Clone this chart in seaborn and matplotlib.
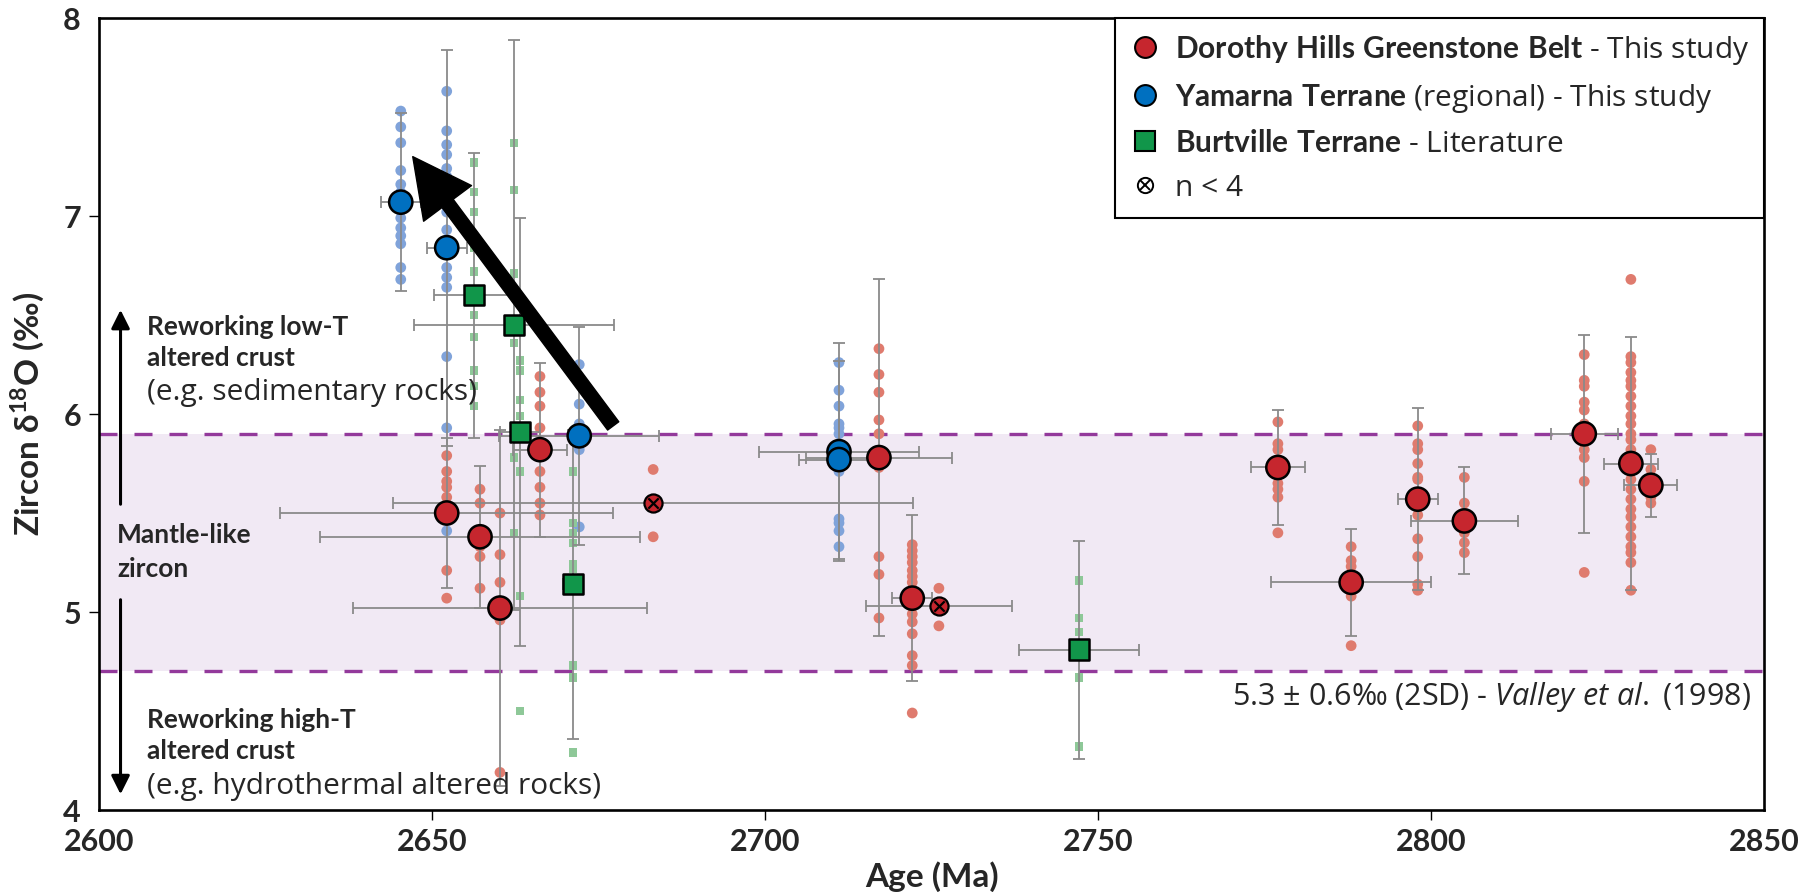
"""
Zircon d18O vs age, Dorothy Hills / Yamarna / Burtville.
"""
import numpy as np
import pandas as pd
import matplotlib
matplotlib.use("Agg")
import matplotlib.pyplot as plt
from matplotlib.lines import Line2D
from matplotlib.legend_handler import HandlerTuple
import seaborn as sns

sns.set_theme(style="white")
plt.rcParams.update({
    "font.family":      ["Open Sans", "DejaVu Sans"],
    "mathtext.fontset": "custom",
    "mathtext.rm":      "Open Sans",
    "mathtext.bf":      "Lato:bold",
    "mathtext.it":      "Open Sans:italic",
})
BOLD = dict(family=["Lato", "DejaVu Sans"], fontweight="bold")

# ── sample means ────────────────────────────────────────────────────────────
dh_age      = [2652.2, 2657.2, 2660.2, 2666.2, 2683.2, 2717.1, 2722.1, 2726.1,
               2777.0, 2788.0, 2798.0, 2805.0, 2823.0, 2830.0, 2833.0]
dh_d18o     = [5.50, 5.38, 5.02, 5.82, 5.55, 5.78, 5.07, 5.03,
               5.73, 5.15, 5.57, 5.46, 5.90, 5.75, 5.64]
dh_age_err  = [25, 24, 22, 4, 39, 11, 3, 11, 4, 12, 3, 8, 5, 4, 4]
dh_d18o_err = [0.38, 0.36, 0.90, 0.44, 0.0, 0.90, 0.42, 0.0,
               0.29, 0.27, 0.46, 0.27, 0.50, 0.64, 0.16]
dh_low_n    = [False, False, False, False, True, False, False, True,
               False, False, False, False, False, False, False]

ya_age      = [2645.3, 2652.2, 2672.1, 2711.1, 2711.1]
ya_d18o     = [7.07, 6.84, 5.89, 5.81, 5.77]
ya_age_err  = [3, 3, 12, 12, 6]
ya_d18o_err = [0.45, 1.0, 0.55, 0.55, 0.50]

bt_age      = [2656.3, 2662.3, 2663.2, 2671.2, 2747.1]
bt_d18o     = [6.60, 6.45, 5.91, 5.14, 4.81]
bt_age_err  = [6, 15, 3, 1.5, 9]
bt_d18o_err = [0.72, 1.44, 1.08, 0.78, 0.55]

# ── individual spot analyses (one list per sample, same order as above) ────
dh_spots = [
    [5.79, 5.71, 5.66, 5.63, 5.58, 5.50, 5.21, 5.07],
    [5.62, 5.55, 5.38, 5.33, 5.28, 5.12],
    [5.50, 5.29, 5.15, 5.02, 4.96, 4.19],
    [6.19, 6.11, 6.04, 5.93, 5.82, 5.71, 5.63, 5.55, 5.49],
    [5.72, 5.38],
    [6.33, 6.20, 6.11, 5.97, 5.90, 5.78, 5.73, 5.28, 5.19, 4.97],
    [5.34, 5.31, 5.28, 5.25, 5.21, 5.18, 5.15, 5.11, 5.06, 4.99, 4.95,
     4.89, 4.78, 4.73, 4.49],
    [5.12, 4.93],
    [5.96, 5.85, 5.82, 5.73, 5.65, 5.62, 5.58, 5.40],
    [5.33, 5.26, 5.23, 5.15, 5.11, 5.08, 4.83],
    [5.94, 5.85, 5.82, 5.75, 5.68, 5.67, 5.57, 5.55, 5.49, 5.37, 5.28,
     5.14, 5.11],
    [5.68, 5.55, 5.50, 5.46, 5.40, 5.35, 5.30],
    [6.30, 6.17, 6.14, 6.06, 6.02, 5.95, 5.90, 5.82, 5.78, 5.66, 5.20],
    [6.68, 6.29, 6.26, 6.21, 6.17, 6.14, 6.09, 6.04, 5.99, 5.95, 5.90,
     5.87, 5.82, 5.78, 5.72, 5.67, 5.62, 5.57, 5.52, 5.48, 5.43, 5.38,
     5.33, 5.30, 5.25, 5.11],
    [5.82, 5.72, 5.68, 5.65, 5.62, 5.58, 5.55],
]
ya_spots = [
    [7.53, 7.45, 7.37, 7.23, 7.16, 7.12, 6.99, 6.94, 6.90, 6.86, 6.74, 6.68],
    [7.63, 7.43, 7.36, 7.31, 7.24, 7.20, 7.08, 7.02, 6.93, 6.88, 6.81,
     6.74, 6.69, 6.64, 6.29, 5.93, 5.41],
    [6.25, 6.05, 5.95, 5.82, 5.43],
    [6.26, 6.12, 6.04, 5.95, 5.93, 5.90, 5.83, 5.73, 5.71],
    [5.47, 5.45, 5.41, 5.33],
]
bt_spots = [
    [7.27, 7.12, 7.02, 6.84, 6.72, 6.50, 6.39, 6.22, 6.14, 6.04],
    [7.37, 7.13, 6.71, 6.36, 5.78, 5.40],
    [6.27, 6.22, 6.07, 5.99, 5.71, 5.08, 4.50],
    [5.71, 5.45, 5.40, 5.35, 5.24, 5.22, 4.73, 4.67, 4.29],
    [5.16, 4.97, 4.90, 4.67, 4.32],
]

C_MAIN = {"Dorothy Hills": "#c6262e", "Yamarna": "#0070c0", "Burtville": "#11964a"}
C_SPOT = {"Dorothy Hills": "#df7b6e", "Yamarna": "#80a3da", "Burtville": "#8ec898"}

spot_rows = []
for grp, ages, spots in [("Dorothy Hills", dh_age, dh_spots),
                         ("Yamarna", ya_age, ya_spots),
                         ("Burtville", bt_age, bt_spots)]:
    for a, vals in zip(ages, spots):
        for v in vals:
            spot_rows.append((grp, a, v))
spots_df = pd.DataFrame(spot_rows, columns=["group", "age", "d18o"])

mean_df = pd.concat([
    pd.DataFrame({"group": "Dorothy Hills", "age": dh_age, "d18o": dh_d18o,
                  "age_err": dh_age_err, "d18o_err": dh_d18o_err, "low_n": dh_low_n}),
    pd.DataFrame({"group": "Yamarna", "age": ya_age, "d18o": ya_d18o,
                  "age_err": ya_age_err, "d18o_err": ya_d18o_err, "low_n": False}),
    pd.DataFrame({"group": "Burtville", "age": bt_age, "d18o": bt_d18o,
                  "age_err": bt_age_err, "d18o_err": bt_d18o_err, "low_n": False}),
], ignore_index=True)

# ── figure ──────────────────────────────────────────────────────────────────
fig = plt.figure(figsize=(18.01, 8.92), dpi=100)
ax = fig.add_axes([0.055, 0.0919, 0.9245, 0.8879])

# mantle zircon band (Valley et al. 1998)
ax.axhspan(4.7, 5.9, color="#f1e9f4", zorder=0, lw=0)
for yv in (4.7, 5.9):
    ax.axhline(yv, color="#93399b", lw=2.4, ls=(0, (5.4, 5.1)), zorder=1)

# spot analyses
sns.scatterplot(data=spots_df[spots_df.group != "Burtville"], x="age", y="d18o",
                hue="group", palette=C_SPOT, marker="o", s=60, linewidth=0,
                legend=False, ax=ax, zorder=2)
sns.scatterplot(data=spots_df[spots_df.group == "Burtville"], x="age", y="d18o",
                hue="group", palette=C_SPOT, marker="s", s=36, linewidth=0,
                legend=False, ax=ax, zorder=2)

# error bars
ax.errorbar(mean_df["age"], mean_df["d18o"], xerr=mean_df["age_err"],
            yerr=mean_df["d18o_err"], fmt="none", ecolor="#8a8a8a",
            elinewidth=1.3, capsize=4, capthick=1.3, zorder=3)

# sample means
big = mean_df[~mean_df.low_n]
sns.scatterplot(data=big[big.group != "Burtville"], x="age", y="d18o",
                hue="group", palette=C_MAIN, marker="o", s=280,
                edgecolor="black", linewidth=1.8, legend=False, ax=ax, zorder=4)
sns.scatterplot(data=big[big.group == "Burtville"], x="age", y="d18o",
                hue="group", palette=C_MAIN, marker="s", s=215,
                edgecolor="black", linewidth=1.8, legend=False, ax=ax, zorder=4)
low = mean_df[mean_df.low_n]
sns.scatterplot(data=low, x="age", y="d18o", color=C_MAIN["Dorothy Hills"],
                marker="o", s=170, edgecolor="black", linewidth=1.6,
                legend=False, ax=ax, zorder=4)
ax.scatter(low["age"], low["d18o"], marker="x", s=55, color="black",
           linewidth=1.6, zorder=5)

# trend arrow
ax.annotate("", xy=(2647.1, 7.30), xytext=(2677.2, 5.94),
            arrowprops=dict(facecolor="black", edgecolor="black", width=10,
                            headwidth=43, headlength=42, shrink=0), zorder=6)

# ── left-hand annotations ──────────────────────────────────────────────────
tr = ax.transAxes
ax.annotate("", xy=(0.0129, 0.635), xytext=(0.0129, 0.3826), xycoords=tr,
            textcoords=tr, arrowprops=dict(arrowstyle="-|>", color="black",
                                           lw=2.2, mutation_scale=28))
ax.annotate("", xy=(0.0129, 0.0164), xytext=(0.0129, 0.269), xycoords=tr,
            textcoords=tr, arrowprops=dict(arrowstyle="-|>", color="black",
                                           lw=2.2, mutation_scale=28))
TXT, TXT_REG = 19, 21.5
ax.text(0.0288, 0.610, "Reworking low-T", transform=tr, fontsize=TXT,
        va="center", **BOLD)
ax.text(0.0288, 0.571, "altered crust", transform=tr, fontsize=TXT,
        va="center", **BOLD)
ax.text(0.0288, 0.527, "(e.g. sedimentary rocks)", transform=tr,
        fontsize=TXT_REG, va="center")
ax.text(0.0108, 0.347, "Mantle-like", transform=tr, fontsize=TXT,
        va="center", **BOLD)
ax.text(0.0108, 0.304, "zircon", transform=tr, fontsize=TXT,
        va="center", **BOLD)
ax.text(0.0288, 0.114, "Reworking high-T", transform=tr, fontsize=TXT,
        va="center", **BOLD)
ax.text(0.0288, 0.0745, "altered crust", transform=tr, fontsize=TXT,
        va="center", **BOLD)
ax.text(0.0288, 0.030, "(e.g. hydrothermal altered rocks)", transform=tr,
        fontsize=TXT_REG, va="center")

ax.text(2848, 4.57, r"5.3 ± 0.6‰ (2SD) - $\mathit{Valley\ et\ al.}$ ($\mathit{1998}$)",
        fontsize=22, ha="right", va="center")

# ── axes ────────────────────────────────────────────────────────────────────
ax.set_xlim(2600, 2850)
ax.set_ylim(4, 8)
ax.set_xticks(np.arange(2600, 2851, 50))
ax.set_yticks([4, 5, 6, 7, 8])
ax.tick_params(axis="both", direction="out", length=7, width=1, color="black",
               labelsize=22, pad=6, bottom=True, left=True)
for lbl in ax.get_xticklabels() + ax.get_yticklabels():
    lbl.set_fontweight("bold")
    lbl.set_family(["Lato", "DejaVu Sans"])
for ticks in (ax.xaxis.get_major_ticks(), ax.yaxis.get_major_ticks()):
    ticks[0].tick1line.set_visible(False)
    ticks[-1].tick1line.set_visible(False)
for sp in ax.spines.values():
    sp.set_color("black")
    sp.set_linewidth(1.9)

ax.set_xlabel("Age (Ma)", fontsize=24, labelpad=4, **BOLD)
ax.set_ylabel(r"Zircon δ$^{\mathbf{18}}$O (‰)", fontsize=24, labelpad=12, **BOLD)

# ── legend ──────────────────────────────────────────────────────────────────
h_dh = Line2D([], [], ls="none", marker="o", markersize=15,
              markerfacecolor=C_MAIN["Dorothy Hills"], markeredgecolor="black", mew=1.5)
h_ya = Line2D([], [], ls="none", marker="o", markersize=15,
              markerfacecolor=C_MAIN["Yamarna"], markeredgecolor="black", mew=1.5)
h_bt = Line2D([], [], ls="none", marker="s", markersize=14,
              markerfacecolor=C_MAIN["Burtville"], markeredgecolor="black", mew=1.5)
h_n1 = Line2D([], [], ls="none", marker="o", markersize=11,
              markerfacecolor="white", markeredgecolor="black", mew=1.4)
h_n2 = Line2D([], [], ls="none", marker="x", markersize=7,
              color="black", mew=1.4)
leg = ax.legend(
    [h_dh, h_ya, h_bt, (h_n1, h_n2)],
    [r"$\mathbf{Dorothy\ Hills\ Greenstone\ Belt}$ - This study",
     r"$\mathbf{Yamarna\ Terrane}$ (regional) - This study",
     r"$\mathbf{Burtville\ Terrane}$ - Literature",
     "n < 4"],
    handler_map={tuple: HandlerTuple(ndivide=1, pad=0)},
    loc="upper right", bbox_to_anchor=(1, 1), borderaxespad=0,
    fontsize=21.5, frameon=True, fancybox=False, framealpha=1,
    handlelength=1.0, handletextpad=0.5, labelspacing=0.5, borderpad=0.5)
leg.get_frame().set_edgecolor("black")
leg.get_frame().set_linewidth(1.5)

fig.savefig("out.png", dpi=100)
